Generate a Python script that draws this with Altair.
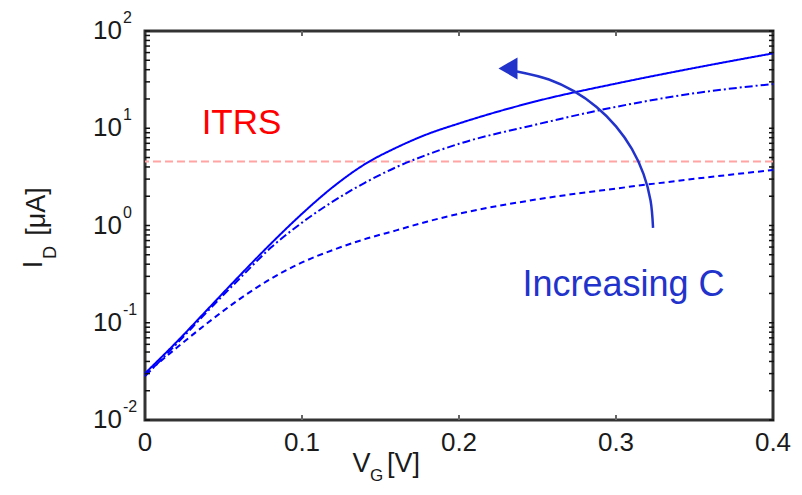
import altair as alt
import pandas as pd

# ---------------- data ----------------
vg = [0, 0.02, 0.04, 0.06, 0.08, 0.10, 0.12, 0.14, 0.16, 0.18, 0.20, 0.25, 0.30, 0.35, 0.40]
id_c1 = [0.0302, 0.0631, 0.138, 0.302, 0.646, 1.32, 2.51, 4.27, 6.31, 8.71, 11.2, 19.1, 28.8, 41.7, 58.9]
id_c2 = [0.0282, 0.0603, 0.132, 0.282, 0.589, 1.07, 1.78, 2.75, 3.98, 5.37, 6.92, 11.0, 16.6, 22.9, 28.5]
id_c3 = [0.0295, 0.0550, 0.100, 0.174, 0.282, 0.417, 0.562, 0.724, 0.891, 1.10, 1.32, 1.86, 2.40, 3.02, 3.72]

itrs_level = [4.54]

# arrow annotation ("Increasing C"), points along the arc
arc_vg = [0.3236, 0.3220, 0.3175, 0.3101, 0.3000, 0.2876, 0.2732, 0.2573, 0.2369]
arc_id = [0.945, 1.81, 3.39, 6.13, 10.46, 16.55, 24.06, 31.74, 38.36]
head_vg = [0.2312]
head_id = [41.2]

# axes
x_ticks = [0, 0.1, 0.2, 0.3, 0.4]
x_tick_labels = ["0", "0.1", "0.2", "0.3", "0.4"]
y_decades = [0.01, 0.1, 1, 10, 100]
y_exponents = ["-2", "-1", "0", "1", "2"]

# ---------------- layout ----------------
W, H = 628, 389
FONT = "Liberation Sans"
BLUE = "#0000ff"
ANN = "#2233cc"

xscale = alt.Scale(domain=[0, 0.4], nice=False, zero=False)
yscale = alt.Scale(type="log", domain=[0.01, 100], nice=False)


def X(f):
    return alt.X(f, scale=xscale, axis=None)


def Y(f):
    return alt.Y(f, scale=yscale, axis=None)


def curve(ys, dash):
    d = pd.DataFrame({"vg": vg, "id": ys})
    return alt.Chart(d).mark_line(
        interpolate="monotone", strokeWidth=2, color=BLUE, strokeDash=dash
    ).encode(x=X("vg:Q"), y=Y("id:Q"))


c1 = curve(id_c1, [1, 0])
c2 = curve(id_c2, [8, 3, 2, 3])
c3 = curve(id_c3, [6, 4])

itrs = alt.Chart(pd.DataFrame({"y": itrs_level})).mark_rule(
    color="#ffa3a3", strokeWidth=2, strokeDash=[8, 4]
).encode(y=Y("y:Q"))

# minor / major log ticks
minor_vals = [d * k for d in y_decades[:-1] for k in range(1, 10)] + [100]
tick_df = pd.DataFrame({"t": minor_vals})
yt_left = alt.Chart(tick_df).mark_rule(color="#111111", strokeWidth=1.5).encode(
    y=Y("t:Q"), x=alt.value(0), x2=alt.value(5)
)
yt_right = alt.Chart(tick_df).mark_rule(color="#111111", strokeWidth=1.5).encode(
    y=Y("t:Q"), x=alt.value(W - 4), x2=alt.value(W + 1)
)
xt_df = pd.DataFrame({"x": x_ticks[1:-1]})
xt_bottom = alt.Chart(xt_df).mark_rule(color="#666666", strokeWidth=2).encode(
    x=X("x:Q"), y=alt.value(H - 5), y2=alt.value(H)
)
xt_top = alt.Chart(xt_df).mark_rule(color="#666666", strokeWidth=2).encode(
    x=X("x:Q"), y=alt.value(0), y2=alt.value(5)
)

# tick labels
xlab = alt.Chart(pd.DataFrame({"x": x_ticks, "lab": x_tick_labels})).mark_text(
    font=FONT, fontSize=26, color="#1a1a1a", align="center", baseline="middle"
).encode(x=X("x:Q"), y=alt.value(H + 23), text="lab:N")

ydf = pd.DataFrame({"y": y_decades, "e": y_exponents, "ten": ["10"] * len(y_decades)})
ylab = alt.Chart(ydf).mark_text(
    font=FONT, fontSize=26, color="#1a1a1a", align="right", baseline="middle"
).encode(y=Y("y:Q"), x=alt.value(-23), text="ten:N")
yexp = alt.Chart(ydf).mark_text(
    font=FONT, fontSize=16, color="#1a1a1a", align="left", baseline="middle", dy=-13
).encode(y=Y("y:Q"), x=alt.value(-22), text="e:N")


# axis titles (with subscripts) and annotations
def txt(s, x, y, size, color="#1a1a1a", angle=0):
    kw = dict(font=FONT, fontSize=size, color=color, align="center", baseline="middle")
    if angle:
        kw["angle"] = angle
    return alt.Chart(pd.DataFrame({"s": [s]})).mark_text(**kw).encode(
        text="s:N", x=alt.value(x), y=alt.value(y)
    )


xt1 = txt("V", 216.5, 433, 27)
xt2 = txt("G", 231.5, 445, 17)
xt3 = txt("[V]", 258.5, 433, 27)
yt1 = txt("I", -111, 233.5, 27, angle=270)
yt2 = txt("D", -94, 221.5, 18, angle=270)
yt3 = txt("[\u03bcA]", -108, 180.5, 27, angle=270)

itrs_txt = txt("ITRS", 96.5, 92, 35, color="#ff0000")
inc_txt = txt("Increasing C", 478.5, 254, 36, color=ANN)

# arrow
arc_df = pd.DataFrame({"vg": arc_vg, "id": arc_id, "o": list(range(len(arc_vg)))})
arc = alt.Chart(arc_df).mark_line(interpolate="catmull-rom", strokeWidth=2.5, color=ANN).encode(
    x=X("vg:Q"), y=Y("id:Q"), order="o:Q"
)
head = alt.Chart(pd.DataFrame({"vg": head_vg, "id": head_id})).mark_point(
    shape="triangle-left", filled=True, size=480, color=ANN, opacity=1
).encode(x=X("vg:Q"), y=Y("id:Q"))

chart = alt.layer(
    itrs, c1, c2, c3, arc, head,
    yt_left, yt_right, xt_bottom, xt_top,
    xlab, ylab, yexp, xt1, xt2, xt3, yt1, yt2, yt3, itrs_txt, inc_txt,
).properties(
    width=W, height=H,
    autosize=alt.AutoSizeParams(type="none"),
    padding={"left": 137, "top": 23, "right": 21, "bottom": 66},
).configure_view(stroke="#333333", strokeWidth=3)

chart.save("out.html", embed_options={"renderer": "svg", "actions": False})
